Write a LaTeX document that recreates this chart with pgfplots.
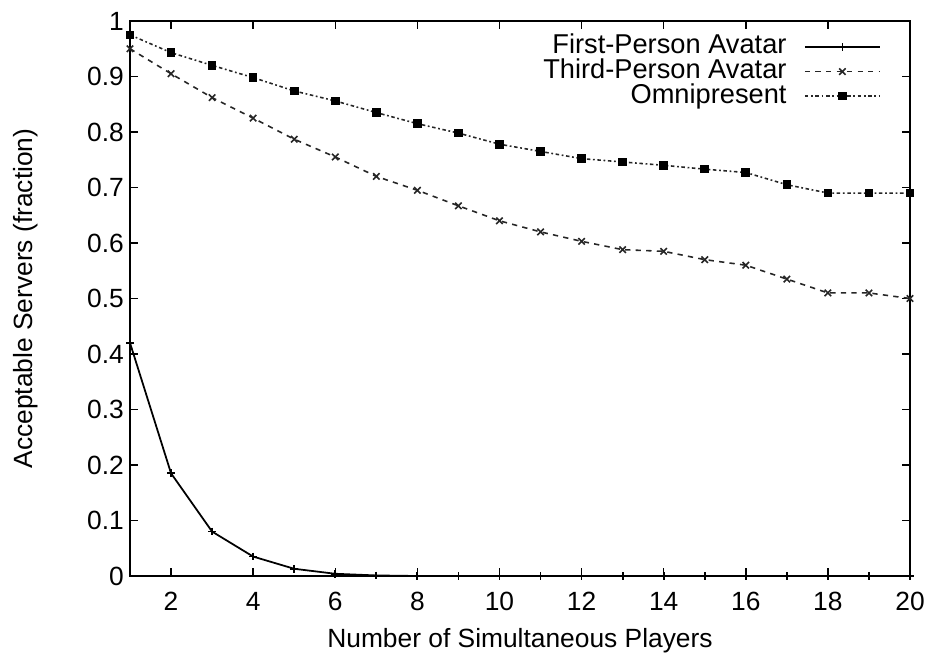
\documentclass[border=0pt]{standalone}
\usepackage{fontspec}
\setmainfont{Liberation Sans}
\usepackage{pgfplots}
\pgfplotsset{compat=1.18}

\begin{document}
\begin{tikzpicture}[x=1cm,y=1cm]
\path[use as bounding box] (-2.6,-1.58) rectangle (16.02,11.52);
\begin{axis}[
    at={(0,0)}, anchor=south west,
    scale only axis,
    width=15.6cm, height=11.1cm,
    xmin=1, xmax=20, ymin=0, ymax=1,
    xtick={2,4,...,20},
    ytick={0,0.1,...,1.0},
    tick align=inside,
    major tick length=0.16cm,
    axis line style={line width=1pt},
    every tick/.style={line width=0.8pt, black},
    font=\fontsize{15}{17}\selectfont,
    /pgf/number format/assume math mode=true,
    yticklabel style={/pgf/number format/fixed, /pgf/number format/precision=1},
    xticklabel style={yshift=-0.2cm},
    xlabel={Number of Simultaneous Players},
    ylabel={Acceptable Servers (fraction)},
    xlabel style={yshift=-0.1cm},
    ylabel style={yshift=0.75cm},
    legend style={draw=none, fill=none, inner sep=0pt,
        at={(0.963,0.976)}, anchor=north east,
        font=\fontsize{15.5}{16}\selectfont, row sep=0pt, column sep=0.28cm,
        nodes={inner ysep=0pt, text height=11pt, text depth=3pt}},
    legend cell align=right,
    legend plot pos=right,
    legend image code/.code={\draw[mark repeat=2,mark phase=2,#1]
        plot coordinates {(0cm,0cm) (0.75cm,0cm) (1.5cm,0cm)};},
]
\addplot[black, line width=1pt, mark=+, mark size=2.2pt] coordinates {
(1,0.42) (2,0.185) (3,0.08) (4,0.035) (5,0.013) (6,0.004) (7,0.001)
(8,0) (9,0) (10,0) (11,0) (12,0) (13,0) (14,0) (15,0) (16,0) (17,0)
(18,0) (19,0) (20,0)};
\addlegendentry{First-Person Avatar}
\addplot[black!85, line width=0.9pt, dashed, mark=x, mark size=2.6pt, mark options={solid}] coordinates {
(1,0.95) (2,0.905) (3,0.862) (4,0.825) (5,0.787) (6,0.755) (7,0.72)
(8,0.695) (9,0.667) (10,0.64) (11,0.62) (12,0.603) (13,0.588) (14,0.585)
(15,0.57) (16,0.56) (17,0.535) (18,0.51) (19,0.51) (20,0.5)};
\addlegendentry{Third-Person Avatar}
\addplot[black!85, line width=0.9pt, dash pattern=on 2pt off 1.5pt on 1pt off 1.5pt, mark=square*, mark size=2pt, mark options={solid, black}] coordinates {
(1,0.975) (2,0.943) (3,0.92) (4,0.898) (5,0.874) (6,0.856) (7,0.835)
(8,0.815) (9,0.798) (10,0.778) (11,0.765) (12,0.752) (13,0.746) (14,0.74)
(15,0.733) (16,0.727) (17,0.705) (18,0.69) (19,0.69) (20,0.69)};
\addlegendentry{Omnipresent}
\end{axis}
\end{tikzpicture}
\end{document}
